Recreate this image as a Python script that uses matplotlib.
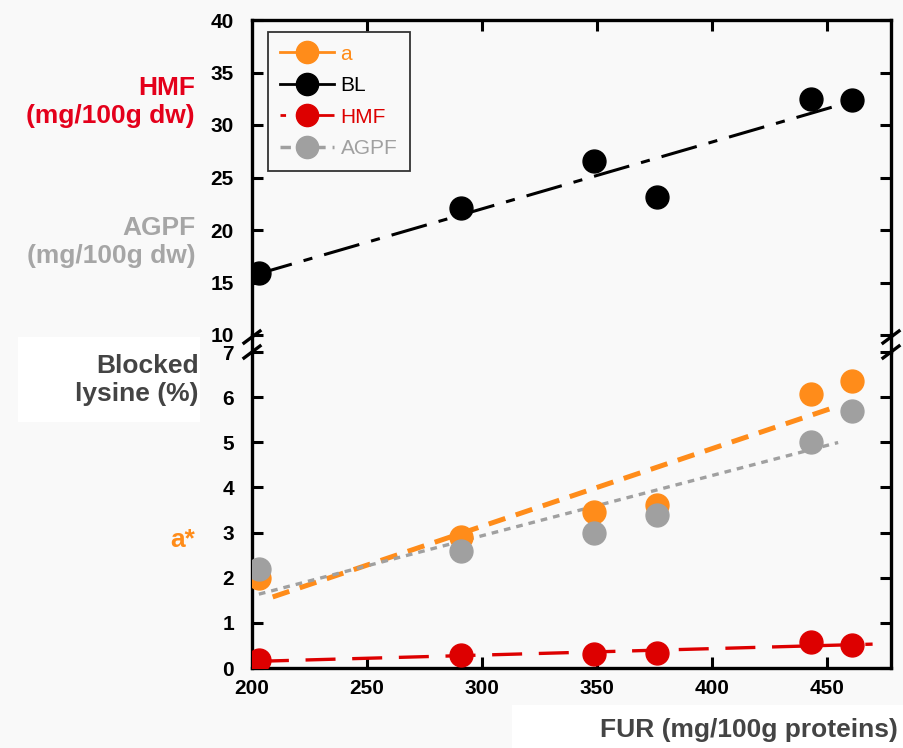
import numpy as np
import matplotlib.pyplot as plt
from matplotlib.lines import Line2D
from matplotlib.patches import Rectangle

# FUR values (x)
fur = [203, 291, 349, 376, 443, 461]
# top panel
bl = [15.9, 22.1, 26.6, 23.1, 32.5, 32.4]
# bottom panel
a_star = [2.0, 2.9, 3.45, 3.6, 6.08, 6.35]
agpf = [2.2, 2.6, 3.0, 3.38, 5.0, 5.7]
hmf = [0.18, 0.28, 0.31, 0.33, 0.58, 0.5]

ORANGE = '#FF8C1A'
GRAY = '#A0A0A0'
RED = '#DD0000'
BG = '#F9F9F9'

plt.rcParams['font.family'] = ['Liberation Sans', 'DejaVu Sans']

W, H = 904, 748
fig = plt.figure(figsize=(W / 100, H / 100), dpi=100, facecolor=BG)

def fx(px):
    return px / W

def fy(py):
    return 1 - py / H

left, right = 252, 891
ax_top = fig.add_axes([fx(left), fy(335), fx(right - left), (335 - 20) / H])
ax_bot = fig.add_axes([fx(left), fy(668), fx(right - left), (668 - 352) / H])

for ax in (ax_top, ax_bot):
    ax.set_facecolor(BG)
    ax.set_xlim(200, 478)
    for s in ax.spines.values():
        s.set_linewidth(2.4)
    ax.tick_params(direction='in', length=8, width=2.2, labelsize=15)
    ax.tick_params(axis='y', pad=13)
    ax.tick_params(axis='x', pad=8)

ax_top.spines['bottom'].set_visible(False)
ax_bot.spines['top'].set_visible(False)

# top panel
ax_top.set_ylim(10, 40)
ax_top.set_yticks(np.arange(10, 41, 5))
ax_top.set_xticks([250, 300, 350, 400, 450])
ax_top.tick_params(axis='x', bottom=False, top=True, labelbottom=False)
ax_top.tick_params(axis='y', left=True, right=True)

ms = 16.5
ax_top.plot(fur, bl, 'o', color='black', ms=ms, zorder=3)
k = np.polyfit(fur, bl, 1)
xs = np.array([202, 453])
ax_top.plot(xs, np.polyval(k, xs), color='black', lw=2.2,
            dashes=(12, 4, 3, 4), zorder=2)

# bottom panel
ax_bot.set_ylim(0, 7)
ax_bot.set_yticks(np.arange(0, 8, 1))
ax_bot.set_xticks([200, 250, 300, 350, 400, 450])
ax_bot.tick_params(axis='x', bottom=True, top=False)
ax_bot.tick_params(axis='y', left=True, right=True)

ax_bot.plot(fur, a_star, 'o', color=ORANGE, ms=ms, zorder=3)
ax_bot.plot(fur, agpf, 'o', color=GRAY, ms=ms, zorder=4)
ax_bot.plot(fur, hmf, 'o', color=RED, ms=ms, zorder=3)

k = np.polyfit(fur, a_star, 1)
xs = np.array([209, 453])
ax_bot.plot(xs, np.polyval(k, xs), color=ORANGE, lw=3.6, dashes=(3.5, 2.2), zorder=2)
k = np.polyfit(fur, agpf, 1)
xs = np.array([203, 455])
ax_bot.plot(xs, np.polyval(k, xs), color=GRAY, lw=2.4, dashes=(2, 1.8), zorder=2)
k = np.polyfit(fur, hmf, 1)
xs = np.array([203, 470])
ax_bot.plot(xs, np.polyval(k, xs), color=RED, lw=2.4, dashes=(9, 5), zorder=2)

for lab in ax_top.get_yticklabels() + ax_bot.get_yticklabels() + ax_bot.get_xticklabels():
    lab.set_fontweight('bold')

# continuous spines through the break + break marks
for xp in (left, right):
    fig.add_artist(Line2D([fx(xp), fx(xp)], [fy(335), fy(352)], color='black', lw=2.4))
    for yp in (337, 352):
        fig.add_artist(Line2D([fx(xp - 8), fx(xp + 8)], [fy(yp + 6), fy(yp - 6)],
                              color='black', lw=2.4))

# legend
handles = [
    Line2D([], [], color=ORANGE, marker='o', ms=16, lw=2),
    Line2D([], [], color='black', marker='o', ms=16, lw=2),
    Line2D([], [], color=RED, marker='o', ms=16, lw=2, dashes=(2, 4, 18, 1)),
    Line2D([], [], color=GRAY, marker='o', ms=16, lw=2.5, dashes=(3, 2)),
]
labels = ['a', 'BL', 'HMF', 'AGPF']
leg = ax_top.legend(handles, labels, loc='upper left', bbox_to_anchor=(0.018, 0.975),
                    handlelength=2.6, handletextpad=0.3,
                    labelspacing=0.6, borderpad=0.6, borderaxespad=0.2,
                    fancybox=False, edgecolor='#333333', facecolor=BG, framealpha=1,
                    prop={'family': 'Liberation Sans', 'size': 15})
leg.get_frame().set_linewidth(1.3)
for t, c in zip(leg.get_texts(), [ORANGE, 'black', RED, GRAY]):
    t.set_color(c)

ax_top.text(533, 37.8, 'B', fontsize=17, fontweight='bold', ha='center', va='center',
            family='Liberation Sans')

# side labels
fig.add_artist(Rectangle((fx(18), fy(422)), fx(182), 85 / H, transform=fig.transFigure,
                         facecolor='white', edgecolor='none', zorder=0))
fig.add_artist(Rectangle((fx(512), 0), fx(W - 512), 43 / H, transform=fig.transFigure,
                         facecolor='white', edgecolor='none', zorder=0))

lab_kw = dict(fontsize=19, fontweight='bold', family='Liberation Sans',
              linespacing=1.25, multialignment='right')
fig.text(fx(195), fy(102), 'HMF\n(mg/100g dw)', color='#E4001B', ha='right', va='center', **lab_kw)
fig.text(fx(196), fy(242), 'AGPF\n(mg/100g dw)', color='#A6A6A6', ha='right', va='center', **lab_kw)
fig.text(fx(199), fy(380), 'Blocked\nlysine (%)', color='#444444', ha='right', va='center', **lab_kw)
fig.text(fx(195), fy(540), 'a*', color=ORANGE, ha='right', va='center', **lab_kw)
fig.text(fx(898), fy(730), 'FUR (mg/100g proteins)', color='#444444', ha='right', va='center', **lab_kw)

fig.savefig('out.png', dpi=100, facecolor=BG)
